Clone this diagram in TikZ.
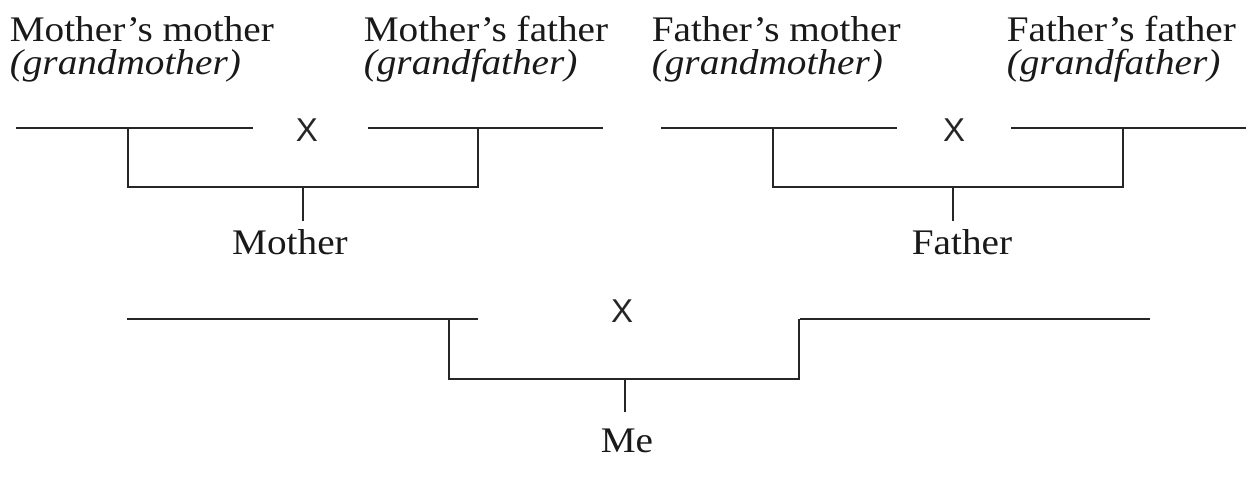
\documentclass[tikz,border=0pt]{standalone}
\usepackage{fontspec}
\setmainfont{Liberation Serif}[FakeStretch=1.09]
\newfontfamily\xfont{Liberation Sans}
\begin{document}
\begin{tikzpicture}[x=1pt,y=-1pt,
  line width=1.6pt, draw=black!85,
  lbl/.style={inner sep=0pt, font=\fontsize{36}{40}\selectfont, text=black!90},
  ilbl/.style={inner sep=0pt, font=\fontsize{36}{40}\selectfont\itshape, text=black!90},
  xmark/.style={inner sep=0pt, font=\xfont\fontsize{33}{36}\selectfont, text=black!85},
  rule/.style={line width=1.6pt, black!85}]
\useasboundingbox (0,0) rectangle (1253,502);
% top labels
\node[lbl,anchor=base west] (mm) at (9,42) {Mother's mother};
\node[ilbl,anchor=base west] (mmi) at (9,75) {(grandmother)};
\node[lbl,anchor=base west] (mf) at (363,42) {Mother's father};
\node[ilbl,anchor=base west] (mfi) at (363,75) {(grandfather)};
\node[lbl,anchor=base west] (fm) at (651,42) {Father's mother};
\node[ilbl,anchor=base west] (fmi) at (651,75) {(grandmother)};
\node[lbl,anchor=base west] (ff) at (1006,42) {Father's father};
\node[ilbl,anchor=base west] (ffi) at (1006,75) {(grandfather)};
% X marks
\node[xmark,anchor=base] (x1) at (307,142) {X};
\node[xmark,anchor=base] (x2) at (954,142) {X};
\node[xmark,anchor=base] (x3) at (622,323) {X};
% parent / child labels
\node[lbl,anchor=base] (mother) at (290,255) {Mother};
\node[lbl,anchor=base] (father) at (962,255) {Father};
\node[lbl,anchor=base] (me) at (627,452) {Me};
% coordinates: mother's parents
\coordinate (a1) at (16,128);  \coordinate (a2) at (253,128);
\coordinate (a3) at (368,128); \coordinate (a4) at (603,128);
\coordinate (av1) at (128,128); \coordinate (av2) at (478,128);
\coordinate (mbar) at (303,187); \coordinate (mend) at (303,221);
% father's parents
\coordinate (b1) at (661,128);  \coordinate (b2) at (897,128);
\coordinate (b3) at (1011,128); \coordinate (b4) at (1246,128);
\coordinate (bv1) at (773,128); \coordinate (bv2) at (1123,128);
\coordinate (fbar) at (953,187); \coordinate (fend) at (953,221);
% parents
\coordinate (c1) at (127,319);  \coordinate (c2) at (478,319);
\coordinate (c3) at (800,319);  \coordinate (c4) at (1150,319);
\coordinate (cv1) at (449,319); \coordinate (cv2) at (799,319);
\coordinate (cbar) at (625,379); \coordinate (cend) at (625,412);
% lines
\draw[rule] (a1) -- (a2); \draw[rule] (a3) -- (a4);
\draw[rule] (av1) |- (mbar) -| (av2);
\draw[rule] (mbar) -- (mend);
\draw[rule] (b1) -- (b2); \draw[rule] (b3) -- (b4);
\draw[rule] (bv1) |- (fbar) -| (bv2);
\draw[rule] (fbar) -- (fend);
\draw[rule] (c1) -- (c2); \draw[rule] (c3) -- (c4);
\draw[rule] (cv1) |- (cbar) -| (cv2);
\draw[rule] (cbar) -- (cend);
\end{tikzpicture}
\end{document}
